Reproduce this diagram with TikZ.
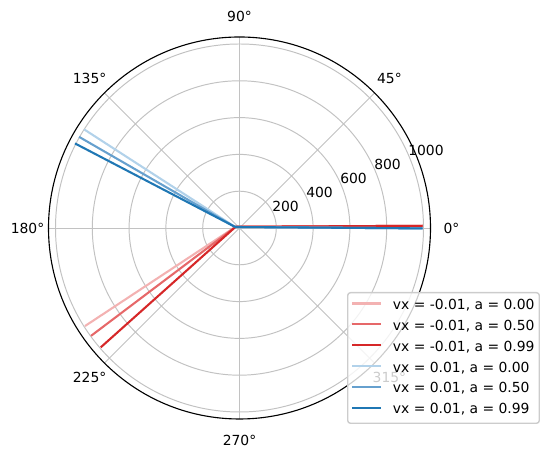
\documentclass[tikz,border=0pt]{standalone}
\usepackage{fontspec}
\setmainfont{DejaVu Sans}
\usetikzlibrary{calc}
\definecolor{gridc}{HTML}{C2C2C2}
\definecolor{legc}{HTML}{CCCCCC}
\definecolor{redA}{RGB}{243,178,178}
\definecolor{redB}{RGB}{230,104,105}
\definecolor{redC}{HTML}{D62728}
\definecolor{bluA}{RGB}{178,210,234}
\definecolor{bluB}{RGB}{102,160,206}
\definecolor{bluC}{HTML}{1F77B4}
\begin{document}
\begin{tikzpicture}[x=0.72pt,y=0.72pt,
  gridline/.style={draw=gridc, line width=0.7pt},
  spine/.style={draw=black, line width=0.8pt},
  dataline/.style={line width=1.5pt, line join=round},
  handle/.style={line width=1.5pt},
  ticklab/.style={inner sep=0pt, font=\fontsize{10}{12}\selectfont},
  legtext/.style={inner sep=0pt, anchor=base west, font=\fontsize{10}{12}\selectfont},
  legbox/.style={draw=legc, fill=white, fill opacity=0.8, line width=1pt, rounded corners=2pt}]
\useasboundingbox (0,0) rectangle (548,456);
\coordinate (C) at (239.5,228);
% grid
\foreach \r in {36.8,73.6,110.4,147.2,184}
  \draw[gridline] (C) circle[radius=\r];
\foreach \a in {0,45,...,315}
  \draw[gridline] (C) -- ($(C)+(\a:191)$);
% data
\coordinate (rR) at (422.7,230.2);
\coordinate (rM) at (235.6,229.2);
\coordinate (bR) at (422.7,227.6);
\coordinate (bM) at (235.2,229.0);
\coordinate (rA) at ($(C)+(212.4:183)$);
\coordinate (rB) at ($(C)+(216.0:183.5)$);
\coordinate (rC) at ($(C)+(220.7:183)$);
\coordinate (bA) at ($(C)+(147.6:184)$);
\coordinate (bB) at ($(C)+(150.4:184.5)$);
\coordinate (bC) at ($(C)+(152.8:185)$);
\draw[dataline, redA] (rR) -- (rM) -- (rA);
\draw[dataline, redB] (rR) -- (rM) -- (rB);
\draw[dataline, redC] (rR) -- (rM) -- (rC);
\draw[dataline, bluA] (bR) -- (bM) -- (bA);
\draw[dataline, bluB] (bR) -- (bM) -- (bB);
\draw[dataline, bluC] (bR) -- (bM) -- (bC);
% outer spine
\draw[spine] (C) circle[radius=191];
% angular labels
\foreach \a [count=\i] in {0,45,...,315}
  \node[ticklab] (ang\i) at ($(C)+(\a:212)$) {\a°};
% radial labels
\foreach \r/\t in {36.8/200,73.6/400,110.4/600,147.2/800,184/1000}
  \node[ticklab, anchor=west] (rad\t) at ($(C)+(22.5:\r)+(-1.5,7)$) {\t};
% legend
\draw[legbox] (347.7,32.7) rectangle (539.3,163.3);
\coordinate (h1a) at (352.3,152.5);  \coordinate (h1b) at (380.7,152.5);
\coordinate (h2a) at (352.3,131.65); \coordinate (h2b) at (380.7,131.65);
\coordinate (h3a) at (352.3,110.8);  \coordinate (h3b) at (380.7,110.8);
\coordinate (h4a) at (352.3,89.95);  \coordinate (h4b) at (380.7,89.95);
\coordinate (h5a) at (352.3,69.1);   \coordinate (h5b) at (380.7,69.1);
\coordinate (h6a) at (352.3,48.25);  \coordinate (h6b) at (380.7,48.25);
\draw[handle, redA] (h1a) -- (h1b);
\draw[handle, redB] (h2a) -- (h2b);
\draw[handle, redC] (h3a) -- (h3b);
\draw[handle, bluA] (h4a) -- (h4b);
\draw[handle, bluB] (h5a) -- (h5b);
\draw[handle, bluC] (h6a) -- (h6b);
\node[legtext] (l1) at (392.7,146.5)  {vx = -0.01, a = 0.00};
\node[legtext] (l2) at (392.7,125.65) {vx = -0.01, a = 0.50};
\node[legtext] (l3) at (392.7,104.8)  {vx = -0.01, a = 0.99};
\node[legtext] (l4) at (392.7,83.95)  {vx = 0.01, a = 0.00};
\node[legtext] (l5) at (392.7,63.1)   {vx = 0.01, a = 0.50};
\node[legtext] (l6) at (392.7,42.25)  {vx = 0.01, a = 0.99};
\end{tikzpicture}
\end{document}
